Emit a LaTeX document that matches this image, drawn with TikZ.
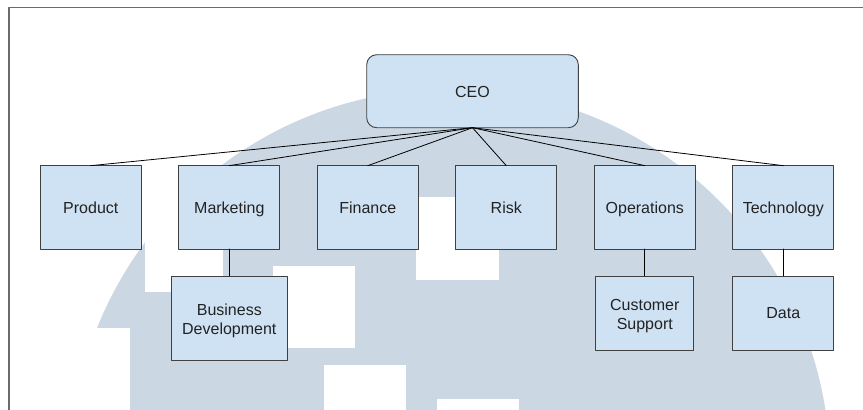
\documentclass[tikz,border=0pt]{standalone}
\usepackage{fontspec}
\setmainfont{Liberation Sans}
\usepackage{xcolor}
\usepackage{tikz}
\usetikzlibrary{positioning}

\definecolor{boxfill}{HTML}{CFE2F3}
\definecolor{boxline}{HTML}{404040}
\definecolor{markgray}{HTML}{CBD8E3}
\definecolor{framegray}{HTML}{6B6B6B}
\definecolor{textgray}{HTML}{222222}

\begin{document}
\begin{tikzpicture}[x=1pt,y=-1pt, font=\fontsize{16}{19}\selectfont, line cap=round, line join=round]
				\useasboundingbox (0,0) rectangle (863,410);
				
				% ===== logo mờ phía sau =====
				\begin{scope}
					\clip (0,0) rectangle (863,410);
					\fill[markgray] (450,469) circle (380pt);
					\foreach \a/\b/\c/\d in {0/328/130/410, 145/190/223/292, 273/266/355/348, 416/197/499/280, 324/365/406/410, 437/399/519/410}{
						\fill[white] (\a,\b) rectangle (\c,\d);
					}
				\end{scope}
				
				% ===== khung =====
				\draw[framegray, line width=1.4pt, line cap=butt] (9,410) -- (9,7.5) -- (863,7.5);
				
				% ===== style =====
				\tikzset{unit/.style={draw=boxline, fill=boxfill, text=textgray, line width=0.9pt, inner sep=0pt, outer sep=0pt, align=center, minimum width=101pt, minimum height=83.3pt},
					one/.style={text height=12pt, text depth=0pt},
					link/.style={draw=black, line width=0.8pt}}
				
				% ===== CEO =====
				\node[unit, one, rounded corners=10pt, minimum width=211.6pt, minimum height=73pt] (ceo) at (472.5,91.2) {CEO};
				
				% ===== hàng 1 =====
				\node[unit, one] (product) at (90.8,207.3) {Product};
				\node[unit, one, right=37.5pt of product] (marketing) {Marketing};
				\node[unit, one, right=37.5pt of marketing] (finance) {Finance};
				\node[unit, one, right=37.5pt of finance] (risk) {Risk};
				\node[unit, one, right=37.5pt of risk] (operations) {Operations};
				\node[unit, one, right=37.5pt of operations] (technology) {Technology};
				
				% ===== hàng 2 =====
				\node[unit, below=27pt of marketing, minimum width=115.3pt, minimum height=84.7pt] (busdev) {\rule{0pt}{17.5pt}Business\\Development};
				\node[unit, below=27pt of operations, minimum width=98pt, minimum height=74pt] (support) {\rule{0pt}{17.5pt}Customer\\Support};
				\node[unit, one, below=27pt of technology, minimum height=74pt] (data) {Data};
				
				% ===== đường nối =====
				\foreach \d in {product,marketing,finance,risk,operations,technology}{
					\draw[link] (ceo.south) -- (\d.north);
				}
				\draw[link] (marketing) -- (busdev);
				\draw[link] (operations) -- (support);
				\draw[link] (technology) -- (data);
			\end{tikzpicture}
\end{document}
